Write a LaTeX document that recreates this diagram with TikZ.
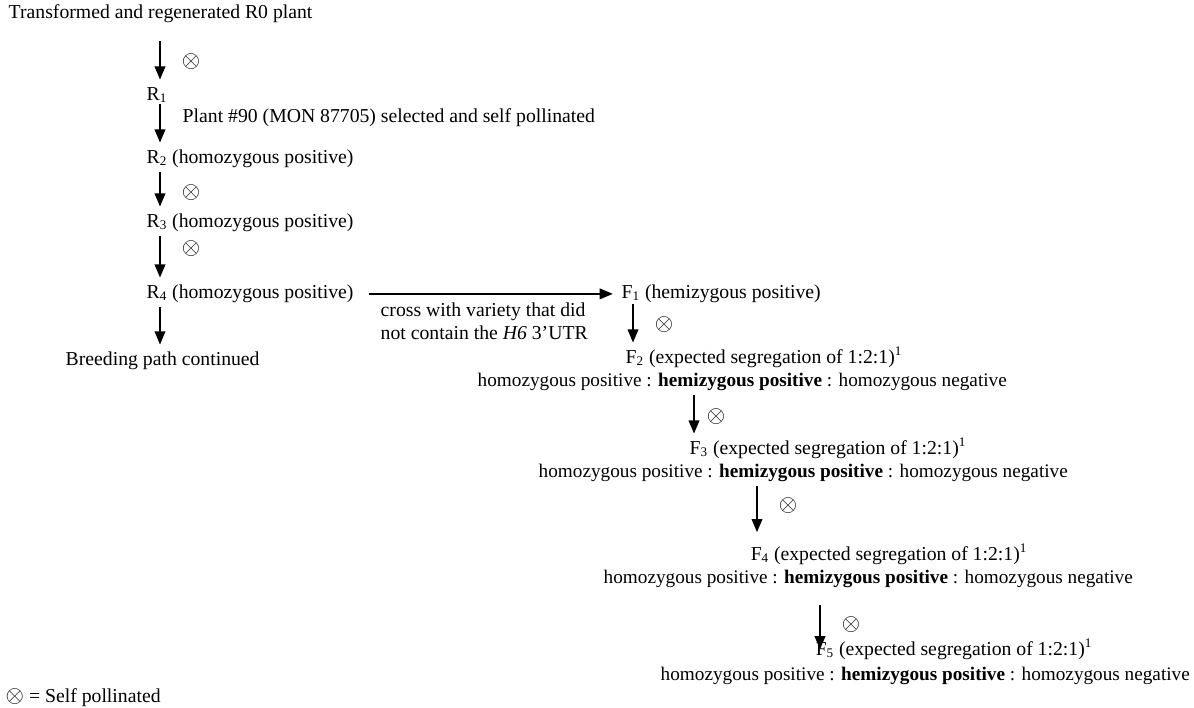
\documentclass[tikz,border=0pt]{standalone}
\usepackage{fontspec}
\setmainfont{Liberation Serif}
\usetikzlibrary{arrows.meta}
\tikzset{
  every picture/.style={x=0.0214cm, y=-0.0214cm, line width=0.9pt},
  lbl/.style={anchor=base west, inner sep=0pt, text height=8pt, text depth=3pt, font=\fontsize{12}{14}\selectfont},
  seg/.style={lbl, font=\fontsize{11.7}{14}\selectfont},
  selfed/.style={font=\fontsize{15}{17}\selectfont, inner sep=0pt},
  down/.style={-{Triangle[length=8pt, width=6.5pt]}, shorten <=2pt, shorten >=4pt},
  note/.style={anchor=north west, align=left, inner sep=0pt, font=\fontsize{12}{14}\selectfont},
}
\newcommand{\segline}{homozygous positive : \textbf{hemizygous positive} : homozygous negative}
\newcommand{\segtitle}[1]{F\textsubscript{#1} (expected segregation of 1:2:1)\textsuperscript{1}}

\begin{document}
\begin{tikzpicture}
  \useasboundingbox (0,0) rectangle (1194,708);
  % columns of the downward arrows
  \coordinate (colR) at (160,0);
  \coordinate (colA) at (633,0);
  \coordinate (colB) at (694,0);
  \coordinate (colC) at (757,0);
  \coordinate (colD) at (820,0);
  % R line (left)
  \node[lbl] (r0) at (8,19) {Transformed and regenerated R0 plant};
  \node[lbl] (r1) at (146,100) {R\textsubscript{1}};
  \node[lbl] (r2) at (146,163) {R\textsubscript{2} (homozygous positive)};
  \node[lbl] (r3) at (146,227) {R\textsubscript{3} (homozygous positive)};
  \node[lbl] (r4) at (146,298) {R\textsubscript{4} (homozygous positive)};
  \node[lbl] (cont) at (65,365) {Breeding path continued};
  \node[lbl] (sel) at (182,123) {Plant \#90 (MON 87705) selected and self pollinated};
  \draw[down, shorten <=10pt] (r0.south -| colR) -- (r1.north -| colR);
  \draw[down, shorten <=-1pt] (r1.south -| colR) -- (r2.north -| colR);
  \draw[down] (r2.south -| colR) -- (r3.north -| colR);
  \draw[down] (r3.south -| colR) -- (r4.north -| colR);
  \draw[down] (r4.south -| colR) -- (cont.north -| colR);
  \node[selfed] (x1) at (191,62) {$\otimes$};
  \node[selfed] (x2) at (191,193) {$\otimes$};
  \node[selfed] (x3) at (191,249) {$\otimes$};
  % cross to F line
  \node[lbl] (f1) at (621,298) {F\textsubscript{1} (hemizygous positive)};
  \draw[-{Triangle[length=8pt, width=6.5pt]}, shorten <=9pt, shorten >=5pt] (r4.east) -- (f1.west |- r4.east);
  \node[note] (cross) at (380,302) {cross with variety that did\\not contain the \textit{H6} 3'UTR};
  % F generations
  \node[lbl] (f2) at (625,363) {\segtitle{2}};
  \node[seg] (f2s) at (477,386) {\segline};
  \node[lbl] (f3) at (689,454) {\segtitle{3}};
  \node[seg] (f3s) at (538,477) {\segline};
  \node[lbl] (f4) at (750,560) {\segtitle{4}};
  \node[seg] (f4s) at (603,583) {\segline};
  \node[lbl] (f5) at (815,655) {\segtitle{5}};
  \node[seg] (f5s) at (660,680) {\segline};
  \draw[down, shorten <=0pt] (f1.south -| colA) -- (f2.north -| colA);
  \draw[down] (f2s.south -| colB) -- (f3.north -| colB);
  \draw[down, shorten >=8.5pt] (f3s.south -| colC) -- (f4.north -| colC);
  \draw[down, shorten <=10pt, shorten >=-5pt] (f4s.south -| colD) -- (f5.north -| colD);
  \node[selfed] (x4) at (664,325) {$\otimes$};
  \node[selfed] (x5) at (716,417) {$\otimes$};
  \node[selfed] (x6) at (788,506) {$\otimes$};
  \node[selfed] (x7) at (851,625) {$\otimes$};
  % key
  \node[lbl] (key) at (5,702) {{\fontsize{14}{16}\selectfont$\otimes$} = Self pollinated};
\end{tikzpicture}
\end{document}
